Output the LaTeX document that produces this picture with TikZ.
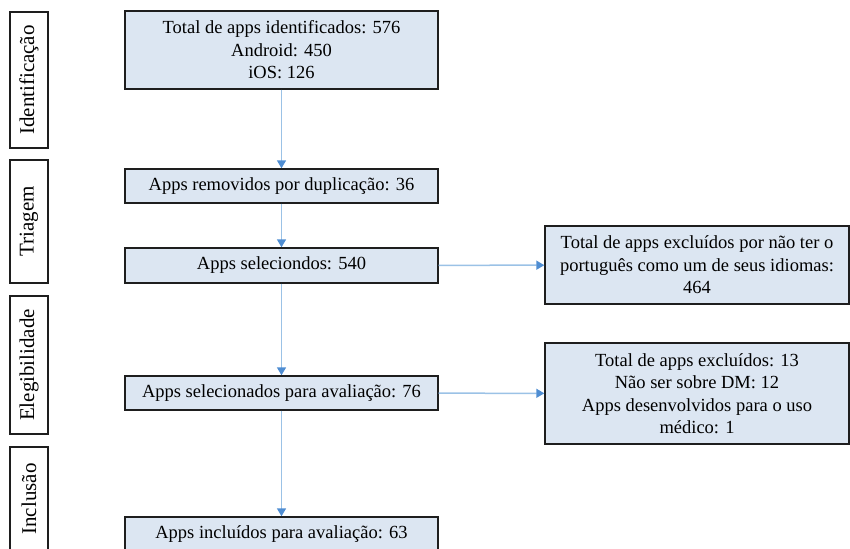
\documentclass[tikz,border=0pt]{standalone}
\usepackage{fontspec}
\setmainfont{Liberation Serif}
\usepackage{tikz}
\usetikzlibrary{arrows.meta}

\begin{document}
\begin{tikzpicture}[x=1pt,y=-1pt]
	\definecolor{custcol_box}{RGB}{220, 230, 242}
	\definecolor{custcol_line}{RGB}{155, 194, 230}
	\definecolor{custcol_tip}{RGB}{79, 141, 210}
	\definecolor{custcol_edge}{RGB}{30, 30, 30}
	\tikzset{
		stagebox/.style={draw=custcol_edge, line width=1.4pt, fill=white, rotate=90, inner sep=0, minimum height=38, font=\fontsize{21pt}{21pt}\selectfont},
		flowbox/.style={draw=custcol_edge, line width=1.4pt, fill=custcol_box, inner sep=0, align=center, font=\fontsize{18.5pt}{22.5pt}\selectfont},
		flowarrow/.style={draw=custcol_line, line width=1.5pt, -{Triangle[length=8pt,width=9pt,color=custcol_tip,fill=custcol_tip]}},
	}
	\useasboundingbox (0,0) rectangle (850,548);
	% stage labels
	\node[stagebox, minimum width=136] (ident) at (29,80) {Identificação};
	\node[stagebox, minimum width=123] (triag) at (29,221.5) {Triagem};
	\node[stagebox, minimum width=138] (eleg) at (29,365) {Elegibilidade};
	\node[stagebox, minimum width=104] (incl) at (29,499) {Inclusão};
	% main flow
	\node[flowbox, minimum width=313, minimum height=78] (total) at (281.5,50) {Total de apps identificados: 576\\Android: 450\\iOS: 126};
	\node[flowbox, minimum width=313, minimum height=34] (dupl) at (281.5,186) {Apps removidos por duplicação: 36};
	\node[flowbox, minimum width=313, minimum height=35] (selec) at (281.5,265.5) {Apps seleciondos: 540};
	\node[flowbox, minimum width=313, minimum height=34] (aval) at (281.5,393) {Apps selecionados para avaliação: 76};
	\node[flowbox, minimum width=313, minimum height=34] (incluidos) at (281.5,534) {Apps incluídos para avaliação: 63};
	% exclusions
	\node[flowbox, minimum width=304, minimum height=78] (exclport) at (697,265) {Total de apps excluídos por não ter o\\português como um de seus idiomas:\\464};
	\node[flowbox, minimum width=304, minimum height=101] (excldm) at (697,393.5) {Total de apps excluídos: 13\\Não ser sobre DM: 12\\Apps desenvolvidos para o uso\\médico: 1};
	\draw[flowarrow] (total) -- (dupl);
	\draw[flowarrow] (dupl) -- (selec);
	\draw[flowarrow] (selec) -- (aval);
	\draw[flowarrow] (aval) -- (incluidos);
	\draw[flowarrow] (selec) -- (exclport);
	\draw[flowarrow] (aval) -- (excldm);
\end{tikzpicture}
\end{document}
